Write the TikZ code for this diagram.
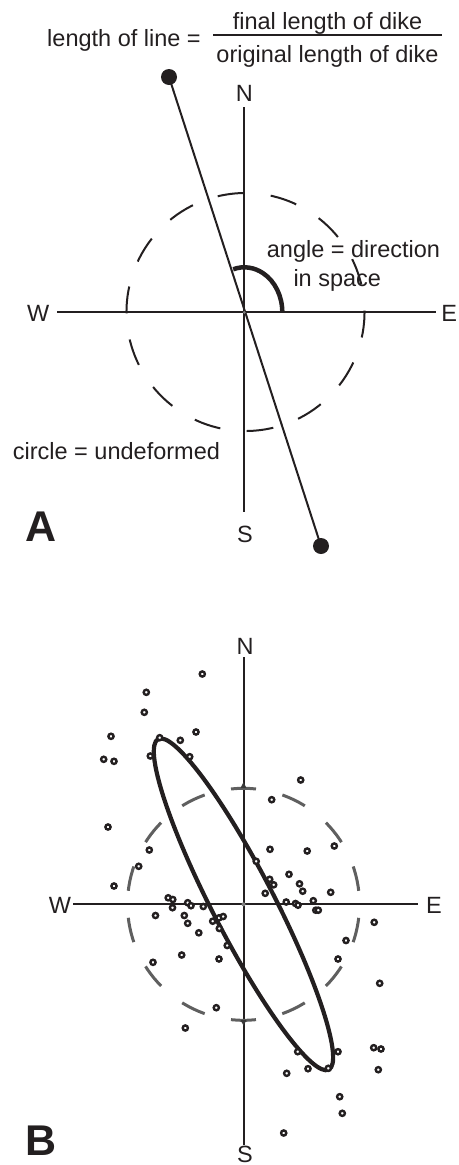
\documentclass[tikz,border=0pt]{standalone}
\usepackage{fontspec}
\setmainfont{Liberation Sans}
\definecolor{ink}{RGB}{35,31,32}
\definecolor{dashgray}{RGB}{95,95,95}
\begin{document}
\begin{tikzpicture}[x=1pt,y=-1pt,
  lbl/.style={font=\fontsize{23.5}{28}\selectfont, text=ink, inner sep=0pt, anchor=base},
  panel/.style={font=\fontsize{43}{50}\selectfont\bfseries, text=ink, inner sep=0pt, anchor=base},
  axis/.style={line width=2pt, draw=ink},
  dotB/.style={circle, draw=ink, fill=white, line width=2.4pt, minimum size=5.2pt, inner sep=0pt},
  bigdot/.style={circle, fill=ink, minimum size=16pt, inner sep=0pt},
  ctr/.style={circle, fill=gray, minimum size=4pt, inner sep=0pt},
  dashA/.style={line width=2pt, draw=ink, dash pattern=on 27pt off 26.41pt, dash phase=13.5pt},
  dashB/.style={line width=3pt, draw=dashgray, dash pattern=on 25pt off 27.06pt, dash phase=12.5pt},
  ell/.style={line width=4.2pt, draw=ink},
  anglearc/.style={line width=4.5pt, draw=ink}
]
\useasboundingbox (0,0) rectangle (458,1165);

% ---------- title fraction ----------
\node[lbl] (lhs) at (124,46.7) {length of line =};
\node[lbl] (num) at (327.5,29) {final length of dike};
\node[lbl] (den) at (327.5,62) {original length of dike};
\coordinate (barL) at (213,35);
\coordinate (barR) at (442,35);
\draw[line width=1.5pt, ink] (barL) -- (barR);

% ---------- panel A ----------
\coordinate (Ac) at (244.3,312.3);
\coordinate (AN) at (244.3,107);
\coordinate (AS) at (244.3,512);
\coordinate (AW) at (57,312.3);
\coordinate (AE) at (436,312.3);
\node[lbl] (N1) at (244.3,101.7) {N};
\node[lbl] (S1) at (245,542) {S};
\node[lbl] (W1) at (38.3,321.7) {W};
\node[lbl] (E1) at (449.3,321.7) {E};
\draw[axis] (AN) -- (AS);
\draw[axis] (AW) -- (AE);
\draw[dashA] (245.5,312) ++(97:119pt) arc[start angle=97, end angle=457, radius=119pt];
\coordinate (arc0) at (282.3,312.3);
\draw[anglearc] (arc0) arc[start angle=0, end angle=107, x radius=38pt, y radius=45pt];
\node[bigdot] (dt) at (169,77) {};
\node[bigdot] (db) at (321,546) {};
\draw[line width=2pt, ink] (dt.center) -- (db.center);
\node[ctr, minimum size=3pt] (c1) at (Ac) {};
\node[lbl, anchor=base west] (ang1) at (266.7,257.3) {angle = direction};
\node[lbl, anchor=base west] (ang2) at (293.3,286) {in space};
\node[lbl, anchor=base west] (und) at (12.7,459.3) {circle = undeformed};
\node[panel] (A) at (40.7,541.7) {A};

% ---------- panel B ----------
\coordinate (Bc) at (243.5,904.3);
\coordinate (BN) at (243.5,657);
\coordinate (BS) at (243.5,1145);
\coordinate (BW) at (73.3,904.3);
\coordinate (BE) at (417.7,904.3);
\node[lbl] (N2) at (245,654) {N};
\node[lbl] (S2) at (245,1162) {S};
\node[lbl] (W2) at (60,913.3) {W};
\node[lbl] (E2) at (434,913.3) {E};
\draw[axis] (BN) -- (BS);
\draw[axis] (BW) -- (BE);
\draw[dashB] (Bc) ++(90:116pt) arc[start angle=90, end angle=450, radius=116pt];
\fill[dashgray!60!black] (243.5,782) -- (240.5,788) -- (246.5,788) -- cycle;
\fill[dashgray!60!black] (243.5,1025.5) -- (240.5,1020) -- (246.5,1020) -- cycle;
\node[ctr] (c2) at (Bc) {};
\draw[ell, rotate around={117.3:(Bc)}] (Bc) ellipse [x radius=186pt, y radius=31pt];
\foreach \x/\y [count=\i] in {
 202.3/674, 146.3/692.3, 144.3/712.3, 111/736.3, 103.7/759.3, 114/761.3,
 159.7/737.7, 180.3/740.3, 196/732, 150.3/756, 189.7/756.7, 300.7/780,
 271.7/799.7, 108/827, 149.3/850, 138.7/866.3, 114/886, 270/849.3,
 307.2/851, 334.3/846, 256.2/861.3, 289/874.3, 269.7/879.3, 273.7/884.8,
 265.2/893.3, 299.5/883.8, 302.7/891.2, 330.7/892.3, 168.2/897.8, 172.8/899.5,
 172.5/907.7, 187.7/902.7, 191/905.7, 203.3/906.5, 155.5/915.5, 184.3/915.5,
 187.7/923.3, 198.8/932.8, 212.7/921.2, 219/917.8, 223.2/916.5, 219.3/928.5,
 227.2/945.5, 181.7/955, 219/959, 153/962.3, 286.2/902, 295.5/903.5,
 298/905.2, 313.3/900.7, 315.8/910.2, 318.3/910.2, 374.2/922.3, 346/940.5,
 338/959, 379.7/983.3, 216.3/1007.7, 185.3/1028, 297.7/1051.7, 338/1051.7,
 373.7/1047.7, 381/1049, 286.7/1073.3, 308/1068.7, 378.3/1069.7, 339.7/1096.7,
 342.3/1113.3, 283.7/1133, 328.3/1068.3}
 \node[dotB] (p\i) at (\x,\y) {};
\node[panel] (B) at (40.7,1155) {B};
\end{tikzpicture}
\end{document}
